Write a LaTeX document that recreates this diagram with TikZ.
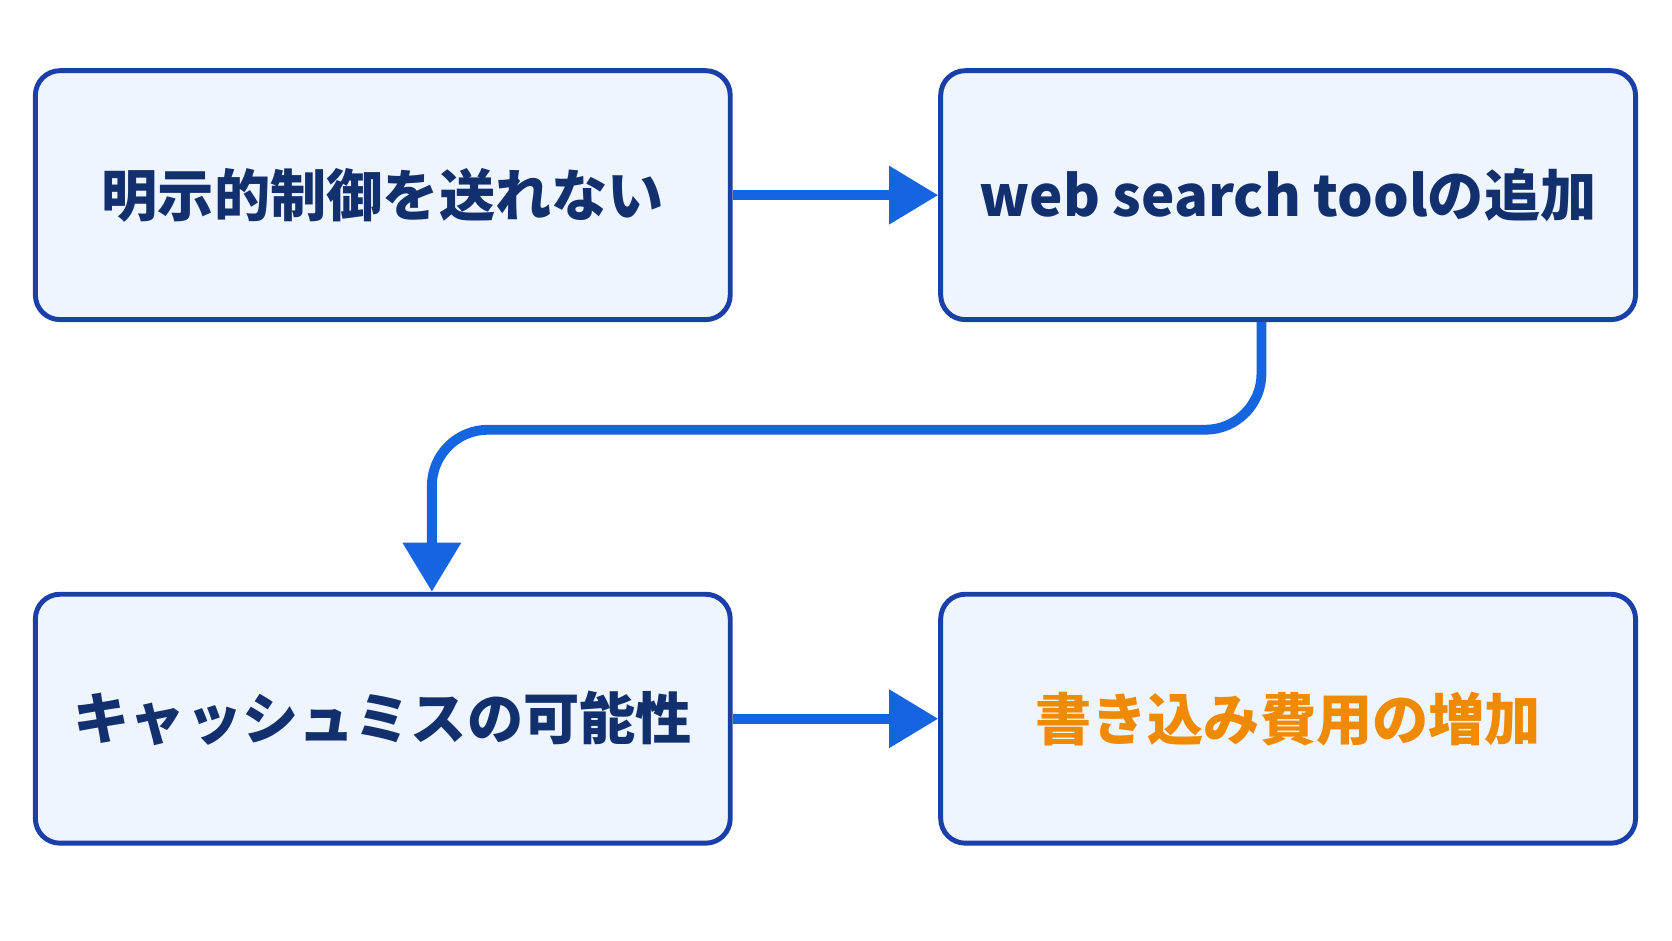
\documentclass[tikz,border=0pt]{standalone}
\usepackage{fontspec}
\newfontfamily\cjk{Noto Sans CJK JP}
\usetikzlibrary{arrows.meta, positioning}
\definecolor{boxline}{HTML}{1A3FA8}
\definecolor{boxfill}{HTML}{EEF5FE}
\definecolor{navy}{HTML}{13306E}
\definecolor{flow}{HTML}{1565E0}
\definecolor{warn}{HTML}{F08A00}
\tikzset{
  stage/.style={draw=boxline, fill=boxfill, line width=1.4pt, rounded corners=7pt,
    minimum width=6.95cm, minimum height=2.49cm, inner sep=0pt,
    font=\cjk\bfseries\fontsize{16}{19}\selectfont, text=navy},
  link/.style={draw=flow, line width=2.8pt, -{Triangle[length=14pt, width=16pt]}}
}
\begin{document}
\begin{tikzpicture}[x=0.01066cm, y=-0.01066cm]
  \useasboundingbox (0,0) rectangle (1568,882);
  \node[stage] (nosend) at (359,183) {明示的制御を送れない};
  \node[stage] (websearch) at (1208,183) {web search toolの追加};
  \node[stage] (miss) at (359,674) {キャッシュミスの可能性};
  \node[stage, text=warn] (cost) at (1208,674) {書き込み費用の増加};
  \coordinate (turn) at (1183,403);
  \coordinate (drop) at (405,403);
  \draw[link] (nosend.east) -- (websearch.west);
  \draw[link, rounded corners=16pt] (websearch.south -| turn) -- (turn) -- (drop) -- (miss.north -| drop);
  \draw[link] (miss.east) -- (cost.west);
\end{tikzpicture}
\end{document}
